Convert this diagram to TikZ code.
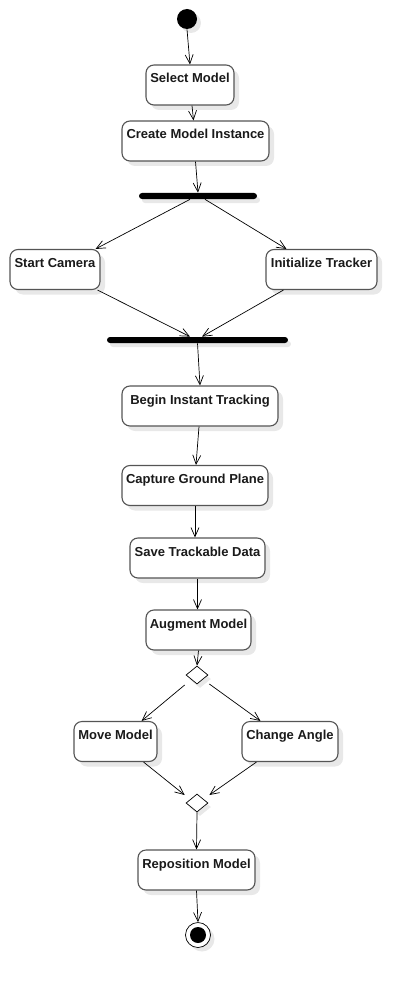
\documentclass[tikz,border=0pt]{standalone}
\usepackage{fontspec}
\setmainfont{Liberation Sans}
\usetikzlibrary{arrows.meta,shapes.geometric,shadows}
\definecolor{boxline}{HTML}{555555}
\definecolor{boxtext}{HTML}{1A1A1A}
\tikzset{flow/.style={%
  -{Straight Barb[length=9pt,width=8pt]},
  line width=0.7pt,
  black,
  }
}
\tikzset{activity/.style={%
  rectangle,
  rounded corners=8pt,
  draw=boxline,
  line width=1.1pt,
  fill=white,
  inner xsep=2pt,
  inner ysep=4pt,
  text height=14pt,
  text depth=18pt,
  text=boxtext,
  font=\fontsize{13}{15}\selectfont\bfseries,
  drop shadow={shadow xshift=5pt,shadow yshift=-5pt,fill=black!9,opacity=1},
  }
}
\tikzset{syncbar/.style={%
  rectangle,
  rounded corners=3pt,
  fill=black,
  minimum height=6pt,
  inner sep=0pt,
  drop shadow={shadow xshift=3pt,shadow yshift=-4pt,fill=black!9,opacity=1},
  }
}
\tikzset{choice/.style={%
  diamond,
  draw,
  fill=white,
  line width=0.7pt,
  minimum width=22pt,
  minimum height=18pt,
  inner sep=0pt,
  drop shadow={shadow xshift=3pt,shadow yshift=-4pt,fill=black!9,opacity=1},
  }
}
\tikzset{activity diagram/.style={x=1pt,y=-1pt,every path/.style={flow}}}

\begin{document}
\begin{tikzpicture}[activity diagram]
  \useasboundingbox (0,0) rectangle (416,987);

  % initial and final states
  \node (start) [circle, fill=black, minimum size=20pt, inner sep=0pt,
    drop shadow={shadow xshift=4pt,shadow yshift=-4pt,fill=black!9,opacity=1}] at (187,19) {};
  \node (end) [circle, draw, fill=white, line width=0.7pt, minimum size=25pt, inner sep=0pt,
    drop shadow={shadow xshift=4pt,shadow yshift=-4pt,fill=black!9,opacity=1}] at (198,935) {};
  \fill [black] (end) circle (8pt);

  % actions
  \node (select) [activity, minimum width=88pt] at (190,85) {Select Model};
  \node (create) [activity, minimum width=147pt] at (195.5,141) {Create Model Instance};
  \node (fork) [syncbar, minimum width=118pt] at (198,196) {};
  \node (camera) [activity, minimum width=90pt] at (55,269.5) {Start Camera};
  \node (tracker) [activity, minimum width=111pt] at (321.5,269.5) {Initialize Tracker};
  \node (join) [syncbar, minimum width=181pt] at (197.5,340) {};
  \node (tracking) [activity, minimum width=156pt] at (200,406) {Begin Instant Tracking};
  \node (ground) [activity, minimum width=146pt] at (195,485.5) {Capture Ground Plane};
  \node (save) [activity, minimum width=135pt] at (197.5,558) {Save Trackable Data};
  \node (augment) [activity, minimum width=105pt] at (198.5,630) {Augment Model};
  \node (branch) [choice] at (197,675) {};
  \node (move) [activity, minimum width=83pt] at (115.5,741.5) {Move Model};
  \node (angle) [activity, minimum width=96pt] at (290,741.5) {Change Angle};
  \node (merge) [choice] at (197,803) {};
  \node (reposition) [activity, minimum width=117pt] at (196.5,870) {Reposition Model};

  \draw (start.south) -- (select.north);
  \draw ([xshift=2pt]select.south) -- ([xshift=-2pt]create.north);
  \draw (create.south) -- (fork.north);
  \draw ([xshift=-8pt]fork.south) -- ([xshift=-5pt]camera.north east);
  \draw ([xshift=7pt]fork.south) -- ([xshift=21pt]tracker.north west);
  \draw ([xshift=-3pt]camera.south east) -- ([xshift=-7.5pt]join.north);
  \draw ([xshift=18pt]tracker.south west) -- ([xshift=4.5pt]join.north);
  \draw (join.south) -- (tracking.north);
  \draw ([xshift=-1pt]tracking.south) -- ([xshift=1pt]ground.north);
  \draw (ground.south) -- (ground.south |- save.north);
  \draw (save.south) -- (save.south |- augment.north);
  \draw (augment.south) -- (branch.north);
  \draw ([xshift=-1pt,yshift=-10pt]branch.west) -- ([xshift=-16pt]move.north east);
  \draw ([xshift=1pt,yshift=-9pt]branch.east) -- ([xshift=19pt]angle.north west);
  \draw ([xshift=-14pt]move.south east) -- ([xshift=-1pt,yshift=8pt]merge.west);
  \draw ([xshift=15pt]angle.south west) -- ([xshift=1pt,yshift=8pt]merge.east);
  \draw (merge.south) -- (reposition.north);
  \draw (reposition.south) -- (end.north);
\end{tikzpicture}
\end{document}
